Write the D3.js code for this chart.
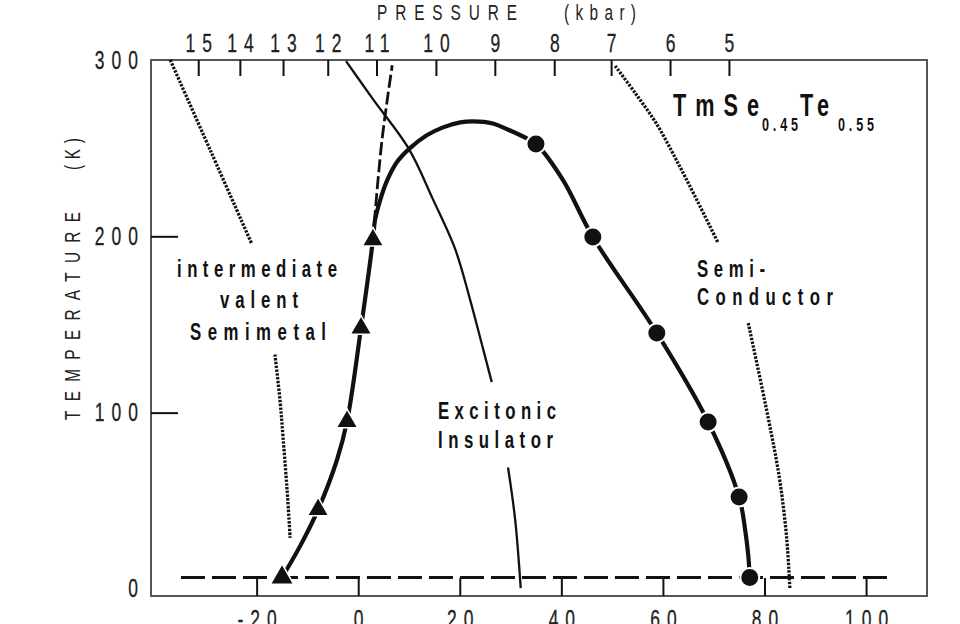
<!DOCTYPE html>
<html><head><meta charset="utf-8">
<script src="https://cdn.jsdelivr.net/npm/d3@7"></script>
<style>body{margin:0;background:#fff}svg{display:block}</style>
</head><body>
<svg id="c" width="960" height="624"></svg>
<script>
// ---- data (pressure axis in bottom-axis units, temperature in K) ----
const bottomTicks = [-20, 0, 20, 40, 60, 80, 100];
const leftTicks = [0, 100, 200, 300];
const topTickLabels = [15, 14, 13, 12, 11, 10, 9, 8, 7, 6, 5];
const topTickAt = [-31.5, -23.3, -14.8, -6.0, 3.6, 15.3, 26.9, 38.6, 49.8, 61.4, 73.0];

const triangles = [[-15.0, 6.5], [-7.9, 45], [-2.2, 95], [0.55, 148], [2.9, 198]];
const circles = [[35.0, 252.4], [46.2, 199.6], [58.8, 145.2], [68.9, 94.7], [75.0, 52.1], [77.1, 6.5]];
const boundary = [[-15.0, 6.5], [-11.5, 24], [-7.9, 45], [-4.2, 73], [-2.2, 95], [0.55, 148], [2.9, 198],
  [3.3, 209], [4.3, 220.3], [5.7, 231.7], [7.6, 242], [10.2, 250], [13.5, 257.3], [16.7, 261.8], [20.1, 264.6],
  [22.6, 265.2], [26.5, 264], [29.9, 260], [33.2, 255.5], [35.0, 252.4],
  [40.3, 232], [46.2, 199.6], [58.8, 145.2], [68.9, 94.7], [75.0, 52.1], [76.2, 33.4], [76.8, 19.2], [77.1, 6.5]];
const steepDashed = [[2.9, 198], [3.3, 212], [3.9, 232], [4.7, 255], [5.7, 277], [6.7, 297]];
const excitonUpper = [[-2.4, 299.4], [2.9, 277.8], [10.0, 249.5], [14.7, 221.1], [19.1, 192.7], [22.0, 164.4], [24.6, 136], [26.3, 117.3]];
const excitonLower = [[29.5, 68.9], [30.9, 39.4], [32.0, 0.5]];
const dotLeftUpper = [[-37.0, 300], [-29.0, 248], [-21.0, 196]];
const dotLeftLower = [[-16.4, 133], [-15.4, 107], [-14.8, 86], [-14.0, 56], [-13.4, 29]];
const dotRightUpper = [[50.6, 296.6], [54.6, 281], [58.7, 264], [62.7, 243], [66.7, 220.5], [70.8, 196.7]];
const dotRightLower = [[76.8, 150.8], [80.7, 97.5], [83.0, 61.8], [84.4, 27.8], [85.0, 0]];
const baseLine = [[-34.9, 6.5], [104.5, 6.5]];

// ---- layout ----
const FONT = "'Liberation Sans Narrow','Arial Narrow','Liberation Sans',Arial,sans-serif";
const SX = 0.7; // horizontal condensing of the glyphs
const L = 151, R = 927, T = 60, B = 596;
const x = d3.scaleLinear().domain([-40.8, 112]).range([L, R]);
const y = d3.scaleLinear().domain([-4, 300]).range([B, T]);
const svg = d3.select('#c');
const line = d3.line().x(d => x(d[0])).y(d => y(d[1])).curve(d3.curveCatmullRom.alpha(0.5));

// frame
svg.append('rect').attr('x', L).attr('y', T).attr('width', R - L).attr('height', B - T)
  .attr('fill', 'none').attr('stroke', '#555').attr('stroke-width', 2);

function styleAxis(g, hide, xpos, anchorShift) {
  g.select('.domain').remove();
  g.selectAll('.tick line').attr('stroke', '#111').attr('stroke-width', 2)
    .attr('opacity', d => (hide && hide.includes(d)) ? 0 : 1);
  g.selectAll('.tick text').attr('font-family', FONT).attr('font-size', 25)
    .attr('fill', '#222').attr('letter-spacing', '10px')
    .attr('stroke', '#222').attr('stroke-width', 0.3)
    .attr('transform', `scale(${SX},1)`)
    .attr('x', xpos).attr('dx', anchorShift);
}

// bottom axis
const gb = svg.append('g').attr('transform', `translate(0,${B})`)
  .call(d3.axisBottom(x).tickValues(bottomTicks).tickFormat(d => String(d)).tickSize(-18).tickPadding(14));
styleAxis(gb, null, 0, 5);

// left axis
const gl = svg.append('g').attr('transform', `translate(${L},0)`)
  .call(d3.axisLeft(y).tickValues(leftTicks).tickFormat(d => String(d)).tickSize(-27).tickPadding(11));
styleAxis(gl, [0, 300], -6 / SX, 0);

// top axis (pressure in kbar)
const gt = svg.append('g').attr('transform', `translate(0,${T})`)
  .call(d3.axisTop(x).tickValues(topTickAt).tickFormat((d, i) => String(topTickLabels[i])).tickSize(-16).tickPadding(8));
styleAxis(gt, null, 0, 5);

// condensed text helper
function addText(str, px, py, o) {
  const g = svg.append('g').attr('transform', `translate(${px},${py})${o.rot ? ` rotate(${o.rot})` : ''} scale(${SX},1)`);
  const t = g.append('text').attr('font-family', FONT).attr('font-size', o.size)
    .attr('font-weight', o.weight || 'normal').attr('fill', o.fill || '#222')
    .attr('textLength', o.len / SX).attr('lengthAdjust', 'spacing').text(str);
  return t;
}

// axis titles
addText('PRESSURE', 377, 20, { size: 22, len: 140 });
addText('(kbar)', 564, 20, { size: 22, len: 72 });
addText('TEMPERATURE', 80, 420, { size: 22, len: 208, rot: -90 });
addText('(K)', 80, 170, { size: 22, len: 32, rot: -90 });

// curves
const dotted = [dotLeftUpper, dotLeftLower, dotRightUpper, dotRightLower];
svg.append('g').selectAll('path').data(dotted).join('path').attr('d', line)
  .attr('fill', 'none').attr('stroke', '#111').attr('stroke-width', 3.3).attr('stroke-dasharray', '2.4,1.4');
svg.append('g').selectAll('path').data([excitonUpper, excitonLower]).join('path').attr('d', line)
  .attr('fill', 'none').attr('stroke', '#111').attr('stroke-width', 2.3);
svg.append('path').datum(steepDashed).attr('d', line).attr('fill', 'none').attr('stroke', '#111')
  .attr('stroke-width', 2.8).attr('stroke-dasharray', '13,4');
svg.append('path').datum(baseLine).attr('d', d3.line().x(d => x(d[0])).y(d => y(d[1])))
  .attr('fill', 'none').attr('stroke', '#111').attr('stroke-width', 3).attr('stroke-dasharray', '24,7');
svg.append('path').datum(boundary).attr('d', line).attr('fill', 'none').attr('stroke', '#111')
  .attr('stroke-width', 4.2);

// markers
svg.append('g').selectAll('path').data(triangles).join('path')
  .attr('d', (d, i) => d3.symbol(d3.symbolTriangle, i === 0 ? 240 : 200)())
  .attr('transform', d => `translate(${x(d[0])},${y(d[1])})`)
  .attr('fill', '#111').attr('stroke', '#fff').attr('stroke-width', 1.5);
svg.append('g').selectAll('circle').data(circles).join('circle')
  .attr('cx', d => x(d[0])).attr('cy', d => y(d[1])).attr('r', 9.5)
  .attr('fill', '#111').attr('stroke', '#fff').attr('stroke-width', 2);

// region labels
const lab = { size: 24, weight: 'bold', fill: '#111' };
addText('intermediate', 177, 277, { ...lab, len: 160 });
addText('valent', 220, 308, { ...lab, len: 78 });
addText('Semimetal', 190, 340, { ...lab, len: 136 });
addText('Excitonic', 438, 419, { ...lab, len: 118 });
addText('Insulator', 438, 448, { ...lab, len: 115 });
addText('Semi-', 697, 277, { ...lab, len: 68 });
addText('Conductor', 697, 305, { ...lab, len: 136 });

// compound title
const tg = svg.append('g').attr('transform', `translate(673,116) scale(${SX},1)`);
const tt = tg.append('text').attr('font-family', FONT).attr('font-weight', 'bold').attr('fill', '#111');
const part = (s, px, py, fs, len) => tt.append('tspan').attr('x', (px - 673) / SX).attr('y', py)
  .attr('font-size', fs).attr('textLength', len / SX).attr('lengthAdjust', 'spacing').text(s);
part('TmSe', 673, 0, 31, 86);
part('0.45', 762, 15, 18, 36);
part('Te', 800, 0, 31, 29);
part('0.55', 838, 15, 18, 36);
</script>
</body></html>
